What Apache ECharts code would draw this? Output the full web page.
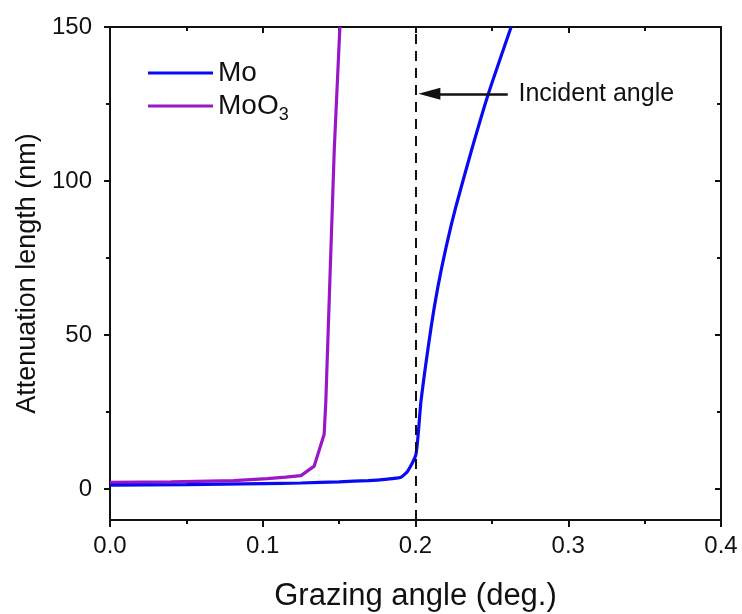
<!DOCTYPE html>
<html>
<head>
    <meta charset="utf-8">
    <title>Attenuation length</title>
    <script src="https://cdn.jsdelivr.net/npm/echarts@6/dist/echarts.min.js"></script>
    <style>
        html, body { margin: 0; padding: 0; background: #fff; }
    </style>
</head>
<body>
    <div id="main" style="width: 742px;height:614px;"></div>
    <script type="text/javascript">
        // values
        var moX = [0, 0.05, 0.1, 0.125, 0.15, 0.169, 0.18, 0.1905, 0.1949, 0.2003, 0.2036, 0.2102, 0.2146, 0.22, 0.2266, 0.2364, 0.2475, 0.2626];
        var moY = [1.3, 1.5, 1.8, 2.0, 2.4, 2.8, 3.2, 3.9, 5.9, 11.3, 28.6, 52.5, 65.5, 78.5, 92, 109.5, 128, 150];
        var mooX = [0, 0.04, 0.081, 0.103, 0.115, 0.125, 0.1337, 0.1402, 0.1413, 0.1468, 0.1505];
        var mooY = [2.2, 2.4, 2.8, 3.4, 3.9, 4.4, 7.5, 17.8, 28.6, 110, 150];
        var yMajor = [0, 50, 100, 150];
        var yMinor = [25, 75, 125];
        var incidentAngle = 0.2;
        var arrowFrom = [0.2604, 128.3];
        var arrowTo = [0.2091, 128.3];
        var noteAt = [0.2674, 128.3];

        function pairs(xs, ys) {
            return xs.map(function (x, i) { return [x, ys[i]]; });
        }

        var font = 'Liberation Sans';
        var black = '#111';

        var myChart = echarts.init(document.getElementById('main'));

        var option = {
            animation: false,
            backgroundColor: '#fff',
            grid: { left: 110, right: 21, top: 27, bottom: 94, outerBoundsMode: 'none', containLabel: false },
            legend: {
                left: 143,
                top: 53,
                orient: 'vertical',
                icon: 'rect',
                itemWidth: 65,
                itemHeight: 3,
                itemGap: 0,
                data: ['Mo', 'MoO3'],
                formatter: function (name) {
                    return name === 'MoO3' ? 'MoO{sub|3}' : name;
                },
                textStyle: {
                    fontFamily: font, fontSize: 28, color: black, lineHeight: 30,
                    rich: {
                        sub: { fontFamily: font, fontSize: 18, color: black, lineHeight: 36, verticalAlign: 'bottom' }
                    }
                }
            },
            xAxis: [
                {
                    type: 'value', position: 'bottom', min: 0, max: 0.4, interval: 0.1,
                    name: 'Grazing angle (deg.)', nameLocation: 'middle', nameGap: 61,
                    nameTextStyle: { fontFamily: font, fontSize: 31, color: black },
                    axisLine: { onZero: false, lineStyle: { color: black, width: 2 } },
                    axisTick: { length: 7, lineStyle: { color: black, width: 2 } },
                    minorTick: { show: true, splitNumber: 2, length: 4, lineStyle: { color: black, width: 2 } },
                    axisLabel: { fontFamily: font, fontSize: 24, color: black, margin: 14,
                        formatter: function (v) { return v.toFixed(1); } },
                    splitLine: { show: false }
                },
                {
                    type: 'value', position: 'top', min: 0, max: 0.4, interval: 0.1,
                    axisLine: { onZero: false, lineStyle: { color: black, width: 2 } },
                    axisTick: { inside: true, length: 6, lineStyle: { color: black, width: 2 } },
                    minorTick: { show: true, splitNumber: 2, length: 4, lineStyle: { color: black, width: 2 } },
                    axisLabel: { show: false },
                    splitLine: { show: false }
                }
            ],
            yAxis: [
                {
                    type: 'value', position: 'left', min: -10, max: 150,
                    name: 'Attenuation length (nm)', nameLocation: 'middle', nameGap: 64,
                    nameTextStyle: { fontFamily: font, fontSize: 27, color: black },
                    axisLine: { show: true, onZero: false, lineStyle: { color: black, width: 2 } },
                    axisTick: { show: true, customValues: yMajor, length: 6, lineStyle: { color: black, width: 2 } },
                    axisLabel: { customValues: yMajor, fontFamily: font, fontSize: 24, color: black, margin: 18 },
                    splitLine: { show: false }
                },
                {
                    type: 'value', position: 'left', min: -10, max: 150,
                    axisLine: { show: false, onZero: false },
                    axisTick: { show: true, customValues: yMinor, length: 4, lineStyle: { color: black, width: 2 } },
                    axisLabel: { show: false },
                    splitLine: { show: false }
                },
                {
                    type: 'value', position: 'right', min: -10, max: 150,
                    axisLine: { show: true, onZero: false, lineStyle: { color: black, width: 2 } },
                    axisTick: { show: true, inside: true, customValues: yMajor, length: 6, lineStyle: { color: black, width: 2 } },
                    axisLabel: { show: false },
                    splitLine: { show: false }
                },
                {
                    type: 'value', position: 'right', min: -10, max: 150,
                    axisLine: { show: false, onZero: false },
                    axisTick: { show: true, inside: true, customValues: yMinor, length: 4, lineStyle: { color: black, width: 2 } },
                    axisLabel: { show: false },
                    splitLine: { show: false }
                }
            ],
            series: [
                {
                    name: 'Mo',
                    type: 'line',
                    data: pairs(moX, moY),
                    showSymbol: false,
                    smooth: 0.2,
                    lineStyle: { color: '#0a0af2', width: 3.2 },
                    itemStyle: { color: '#0a0af2' },
                    z: 3,
                    markLine: {
                        silent: true,
                        symbol: 'none',
                        label: { show: false },
                        data: [
                            [
                                { coord: [incidentAngle, -10], symbol: 'none' },
                                { coord: [incidentAngle, 150], symbol: 'none' }
                            ],
                            [
                                { coord: arrowFrom, symbol: 'none', lineStyle: { type: 'solid', width: 2.5, color: black } },
                                { coord: arrowTo, symbol: 'triangle', symbolSize: [12, 22], symbolRotate: 90 }
                            ]
                        ],
                        lineStyle: { color: black, width: 2, type: [10, 7] }
                    },
                    markPoint: {
                        silent: true,
                        symbol: 'circle',
                        symbolSize: 0,
                        data: [{ coord: noteAt, value: 'Incident angle' }],
                        label: {
                            show: true, position: 'right', distance: 0,
                            fontFamily: font, fontSize: 25, color: black,
                            formatter: 'Incident angle'
                        }
                    }
                },
                {
                    name: 'MoO3',
                    type: 'line',
                    data: pairs(mooX, mooY),
                    showSymbol: false,
                    lineStyle: { color: '#9a17c8', width: 3.2 },
                    itemStyle: { color: '#9a17c8' },
                    z: 2
                }
            ]
        };
        myChart.setOption(option);
    </script>
</body>
</html>
